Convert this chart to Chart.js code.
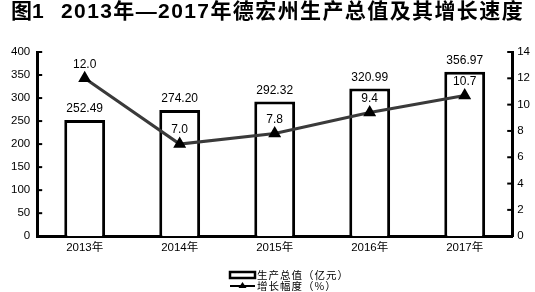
<!DOCTYPE html>
<html>
<head>
<meta charset="utf-8">
<script src="https://cdn.jsdelivr.net/npm/chart.js@4"></script>
<style>
  html, body { margin: 0; padding: 0; background: #fff; }
  #wrap { position: relative; width: 535px; height: 292px; }
</style>
</head>
<body>
<div id="wrap"><canvas id="grafico" width="535" height="292"></canvas></div>
<script>
const anios = ["2013年", "2014年", "2015年", "2016年", "2017年"];
const produccion = [252.49, 274.20, 292.32, 320.99, 356.97];
const crecimiento = [12.0, 7.0, 7.8, 9.4, 10.7];
const tituloFig = "图1";
const titulo = "2013年—2017年德宏州生产总值及其增长速度";
const nombreBarras = "生产总值（亿元）";
const nombreLinea = "增长幅度（%）";

const fuente = "'Liberation Sans', Arial, 'Noto Sans CJK SC', sans-serif";

// titulo, marcas de ejes hacia dentro, etiquetas y leyenda
const extras = {
    id: "extras",
    afterDraw(chart) {
        let ctx = chart.ctx;
        let area = chart.chartArea;
        let yIzq = chart.scales.y;
        let yDer = chart.scales.y2;

        ctx.save();
        ctx.fillStyle = "#000";
        ctx.font = "bold 21px " + fuente;
        ctx.textBaseline = "middle";
        ctx.textAlign = "left";
        ctx.fillText(tituloFig, 11, 12);
        ctx.letterSpacing = "1.4px";
        ctx.fillText(titulo, 61, 12);
        ctx.letterSpacing = "0px";

        // marcas
        ctx.strokeStyle = "#000";
        ctx.lineWidth = 2;
        yIzq.ticks.forEach(t => {
            let y = yIzq.getPixelForValue(t.value);
            ctx.beginPath();
            ctx.moveTo(area.left, y);
            ctx.lineTo(area.left + 5, y);
            ctx.stroke();
        });
        yDer.ticks.forEach(t => {
            let y = yDer.getPixelForValue(t.value);
            ctx.beginPath();
            ctx.moveTo(area.right, y);
            ctx.lineTo(area.right - 5, y);
            ctx.stroke();
        });

        // etiquetas de valores
        ctx.font = "12px " + fuente;
        ctx.textAlign = "center";
        ctx.textBaseline = "middle";
        chart.getDatasetMeta(0).data.forEach((b, i) => {
            ctx.fillText(produccion[i].toFixed(2), b.x, b.y - 11);
        });
        chart.getDatasetMeta(1).data.forEach((p, i) => {
            ctx.fillText(crecimiento[i].toFixed(1), p.x, p.y - 14);
        });

        // leyenda
        let lx = 230, ly1 = 275, ly2 = 286;
        ctx.strokeStyle = "#000";
        ctx.lineWidth = 2.5;
        ctx.fillStyle = "#fff";
        ctx.fillRect(lx, ly1 - 3, 25, 6);
        ctx.strokeRect(lx, ly1 - 3, 25, 6);
        ctx.lineWidth = 2;
        ctx.beginPath();
        ctx.moveTo(lx, ly2);
        ctx.lineTo(lx + 25, ly2);
        ctx.stroke();
        ctx.fillStyle = "#000";
        ctx.beginPath();
        ctx.moveTo(lx + 12.5, ly2 - 4);
        ctx.lineTo(lx + 16.5, ly2 + 2);
        ctx.lineTo(lx + 8.5, ly2 + 2);
        ctx.closePath();
        ctx.fill();
        ctx.font = "10.5px 'Noto Sans CJK SC', sans-serif";
        ctx.letterSpacing = "1px";
        ctx.textAlign = "left";
        ctx.textBaseline = "middle";
        ctx.fillText(nombreBarras, lx + 27, ly1);
        ctx.fillText(nombreLinea, lx + 27, ly2);
        ctx.restore();
    }
};

let ctxGrafico = document.getElementById("grafico").getContext("2d");
let grafico = new Chart(ctxGrafico, {
    type: "bar",
    data: {
        labels: anios,
        datasets: [{
            type: "bar",
            label: nombreBarras,
            data: produccion,
            backgroundColor: "#fff",
            borderColor: "#000",
            borderWidth: 3,
            barPercentage: 0.43,
            categoryPercentage: 1,
            yAxisID: "y",
            order: 2
        }, {
            type: "line",
            label: nombreLinea,
            data: crecimiento,
            borderColor: "#3a3a3a",
            borderWidth: 3,
            pointStyle: "triangle",
            pointRadius: 4.5,
            pointBackgroundColor: "#000",
            pointBorderColor: "#000",
            tension: 0,
            fill: false,
            yAxisID: "y2",
            order: 1
        }]
    },
    options: {
        responsive: false,
        animation: false,
        layout: { padding: { top: 52, bottom: 32, left: 4, right: 0 } },
        plugins: {
            legend: { display: false },
            tooltip: { enabled: false }
        },
        scales: {
            x: {
                grid: { display: false, drawTicks: false },
                border: { color: "#000", width: 3 },
                ticks: { color: "#000", font: { size: 11.5, family: fuente }, padding: 5 }
            },
            y: {
                position: "left",
                min: 0,
                max: 400,
                grid: { display: false, drawTicks: false },
                border: { color: "#000", width: 3 },
                ticks: { stepSize: 50, color: "#000", font: { size: 11.5, family: fuente }, padding: 7 }
            },
            y2: {
                position: "right",
                min: 0,
                max: 14,
                grid: { display: false, drawTicks: false },
                border: { color: "#000", width: 3 },
                ticks: { stepSize: 2, color: "#000", font: { size: 11.5, family: fuente }, padding: 5 }
            }
        }
    },
    plugins: [extras]
});
</script>
</body>
</html>
